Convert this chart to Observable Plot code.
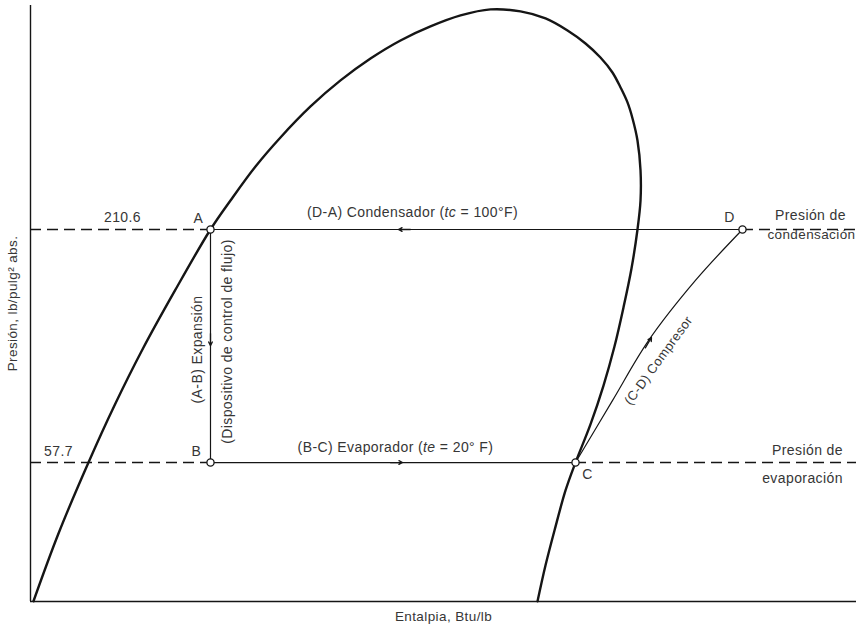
<!DOCTYPE html>
<html><head><meta charset="utf-8">
<script src="https://cdn.jsdelivr.net/npm/d3@7"></script>
<script src="https://cdn.jsdelivr.net/npm/@observablehq/plot@0.6"></script>
<style>
html,body{margin:0;padding:0;background:#fff;}
#chart{width:856px;height:628px;}
#chart svg text{letter-spacing:0.4px;}
</style></head><body><div id="chart"></div>
<script>
// Frame extents (enthalpy, Btu/lb; pressure, lb/pulg² abs.)
const hMin = 6.79, hMax = 118.35;
const pMin = 26.66, pMax = 731;

// Saturation dome
const domoH = [7.19, 10.57, 14.62, 18.13, 21.98, 26.31, 31.1, 33.8, 37.18, 40.55, 44.61, 48.66, 52.71, 56.76, 60.81, 64.87, 68.92, 72.97, 76.35, 79.32, 81.75, 83.77, 85.39, 86.48, 87.42, 88.1, 88.77, 89.18, 89.18, 88.77, 87.96, 86.88, 85.66, 84.18, 82.42, 80.4, 79.05, 77.56, 76.35, 75.27];
const domoP = [26.7, 38.9, 57.7, 79.2, 108.7, 150.1, 210.6, 247.4, 298.9, 351.2, 417.2, 482.1, 544.5, 602.0, 650.7, 691.7, 715.3, 707.4, 680.4, 636.3, 592.0, 547.6, 503.9, 463.7, 426.6, 390.3, 345.3, 292.4, 247.4, 210.6, 169.6, 136.6, 109.9, 88.5, 71.3, 57.7, 49.4, 39.55, 32.6, 26.7];

// Cycle points A, B, C, D
const puntos = ["A", "B", "C", "D"];
const puntoH = [31.1, 31.1, 80.4, 102.95];
const puntoP = [210.6, 57.7, 57.7, 210.6];

// Compression path C -> D
const compH = [80.4, 85.39, 90.26, 96.6, 102.95];
const compP = [57.7, 81.4, 113.6, 158.7, 210.6];

// Pressure labels
const presiones = [210.6, 57.7];
const presionTextos = ["210.6", "57.7"];

// Direction arrows (tail -> tip)
const flechaH1 = [58.1, 55.41, 31.1, 89.83];
const flechaP1 = [210.6, 57.7, 118.1, 109.1];
const flechaH2 = [56.49, 57.03, 31.1, 90.66];
const flechaP2 = [210.6, 57.7, 110.5, 115.6];

// Texts
const tituloX = "Entalpia, Btu/lb";
const tituloY = "Presión, lb/pulg² abs.";
const textoDA = "(D-A) Condensador (tc = 100°F)";
const textoBC = "(B-C) Evaporador (te = 20° F)";
const textoAB = "(A-B) Expansión";
const textoDisp = "(Dispositivo de control de flujo)";
const textoCD = "(C-D) Compresor";
const textoCond = ["Presión de", "condensación"];
const textoEvap = ["Presión de", "evaporación"];

const domo = domoH.map((h, i) => ({h, p: domoP[i]}));
const ciclo = puntos.map((n, i) => ({n, h: puntoH[i], p: puntoP[i]}));
const comp = compH.map((h, i) => ({h, p: compP[i]}));
const flechas = flechaH1.map((h, i) => ({h1: h, p1: flechaP1[i], h2: flechaH2[i], p2: flechaP2[i]}));
const A = ciclo[0], B = ciclo[1], C = ciclo[2], D = ciclo[3];

const ink = "#151515";
const tInk = "#363636";
const font = "'Liberation Sans', Arial, Helvetica, sans-serif";
const dash = "11,6";
const one = [0];

const chart = Plot.plot({
  width: 856, height: 628,
  marginLeft: 30, marginRight: 0, marginTop: 5, marginBottom: 27,
  x: {domain: [hMin, hMax], axis: null},
  y: {type: "log", domain: [pMin, pMax], axis: null},
  style: {fontFamily: font, background: "#fff", overflow: "visible"},
  marks: [
    // axes
    Plot.ruleX([hMin], {stroke: ink, strokeWidth: 1.4}),
    Plot.ruleY([pMin], {stroke: ink, strokeWidth: 1.4}),
    // dashed pressure lines
    Plot.ruleY(presiones, {y: d => d, x1: hMin, x2: A.h, stroke: ink, strokeWidth: 1.4, strokeDasharray: dash}),
    Plot.ruleY([D], {y: "p", x1: "h", x2: hMax, stroke: ink, strokeWidth: 1.4, strokeDasharray: dash}),
    Plot.ruleY([C], {y: "p", x1: "h", x2: hMax, stroke: ink, strokeWidth: 1.4, strokeDasharray: dash}),
    // solid cycle lines
    Plot.ruleY([A], {y: "p", x1: "h", x2: D.h, stroke: ink, strokeWidth: 1.2}),
    Plot.ruleY([B], {y: "p", x1: "h", x2: C.h, stroke: ink, strokeWidth: 1.2}),
    Plot.ruleX([A], {x: "h", y1: B.p, y2: "p", stroke: ink, strokeWidth: 1.2}),
    Plot.line(comp, {x: "h", y: "p", curve: "catmull-rom", stroke: ink, strokeWidth: 1.2}),
    // saturation dome
    Plot.line(domo, {x: "h", y: "p", curve: "catmull-rom", stroke: ink, strokeWidth: 2.4}),
    // arrows
    Plot.arrow(flechas, {x1: "h1", y1: "p1", x2: "h2", y2: "p2", stroke: ink, strokeWidth: 1.3, headLength: 9, headAngle: 55}),
    // points
    Plot.dot(ciclo, {x: "h", y: "p", r: 3.6, fill: "#fff", stroke: ink, strokeWidth: 1.3}),
    // point letters
    Plot.text([A], {x: "h", y: "p", text: "n", dx: -12, dy: -11, fontSize: 14, fill: tInk}),
    Plot.text([B], {x: "h", y: "p", text: "n", dx: -14, dy: -11, fontSize: 14, fill: tInk}),
    Plot.text([C], {x: "h", y: "p", text: "n", dx: 12, dy: 12, fontSize: 14, fill: tInk}),
    Plot.text([D], {x: "h", y: "p", text: "n", dx: -13, dy: -12, fontSize: 14, fill: tInk}),
    // pressure values
    Plot.text(presiones, {x: hMin, y: d => d, text: (d, i) => presionTextos[i], dx: 92, dy: -12, fontSize: 14, fill: tInk, filter: (d, i) => i === 0}),
    Plot.text(presiones, {x: hMin, y: d => d, text: (d, i) => presionTextos[i], dx: 28, dy: -11, fontSize: 14, fill: tInk, filter: (d, i) => i === 1}),
    // process labels
    Plot.text([A], {x: "h", y: "p", text: () => textoDA, dx: 202, dy: -17, fontSize: 14, fill: tInk}),
    Plot.text([B], {x: "h", y: "p", text: () => textoBC, dx: 185, dy: -15, fontSize: 14, fill: tInk}),
    Plot.text([A], {x: "h", y: "p", text: () => textoAB, dx: -13, dy: 120, rotate: -90, fontSize: 14, fill: tInk}),
    Plot.text([A], {x: "h", y: "p", text: () => textoDisp, dx: 17, dy: 112, rotate: -90, fontSize: 14, fill: tInk}),
    Plot.text([C], {x: "h", y: "p", text: () => textoCD, dx: 83, dy: -102, rotate: -54, fontSize: 13, fill: tInk}),
    // right-side labels
    Plot.text([D], {x: "h", y: "p", text: () => textoCond[0], dx: 68, dy: -14, fontSize: 14, fill: tInk}),
    Plot.text([D], {x: hMax, y: "p", text: () => textoCond[1], dx: -1, dy: 5, textAnchor: "end", fontSize: 13.5, fill: tInk}),
    Plot.text([C], {x: "h", y: "p", text: () => textoEvap[0], dx: 232, dy: -12, fontSize: 14, fill: tInk}),
    Plot.text([C], {x: "h", y: "p", text: () => textoEvap[1], dx: 227, dy: 16, fontSize: 14, fill: tInk}),
    // axis titles
    Plot.text(one, {frameAnchor: "bottom", textAnchor: "middle", text: () => tituloX, dy: 19, fontSize: 13.5, fill: tInk}),
    Plot.text(one, {frameAnchor: "left", textAnchor: "middle", text: () => tituloY, dx: -18, rotate: -90, fontSize: 13.5, fill: tInk})
  ]
});

// italic variable names (tc, te)
chart.querySelectorAll("text").forEach(t => {
  const s = t.textContent;
  const m = s.match(/\((t[ce])( = .*)$/);
  if (m && (s === textoDA || s === textoBC)) {
    const pre = s.slice(0, s.indexOf("(" + m[1]) + 1);
    while (t.firstChild) t.removeChild(t.firstChild);
    const ns = "http://www.w3.org/2000/svg";
    const a = document.createElementNS(ns, "tspan"); a.textContent = pre;
    const b = document.createElementNS(ns, "tspan"); b.textContent = m[1]; b.setAttribute("font-style", "italic");
    const c = document.createElementNS(ns, "tspan"); c.textContent = m[2];
    t.append(a, b, c);
  }
});

document.getElementById("chart").appendChild(chart);
</script>
</body></html>
